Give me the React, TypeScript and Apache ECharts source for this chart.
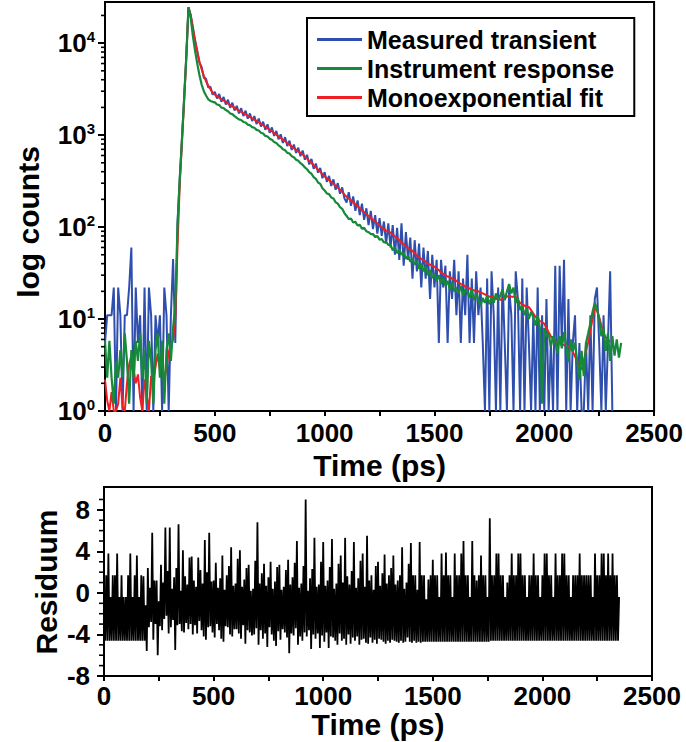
import React, { useEffect, useRef } from "react";
import * as echarts from "echarts";

// sampling steps (ps); the i-th value sits at i * step
const TIME_STEP_PS = 10;
const RESID_STEP_PS = 5;

// Measured transient (counts), t = 0 .. 2310 ps
const measured = [
  5.5, 11, 11, 11, 22, 1, 22, 11, 1, 11,
  11, 22, 60, 1, 22, 5.5, 11, 1, 22, 1,
  22, 11, 1, 11, 5.5, 11, 1, 22, 11, 1,
  11, 45, 5.5, 110, 330, 880, 2450, 7100, 24500, 20500,
  15000, 10800, 8300, 6100, 5500, 4200, 4100, 3300, 3350, 2750,
  2950, 2500, 2800, 2300, 2600, 2150, 2420, 1980, 2250, 1850,
  2080, 1720, 1960, 1610, 1840, 1510, 1720, 1420, 1610, 1320,
  1510, 1240, 1400, 1140, 1310, 1060, 1210, 980, 1110, 900,
  1020, 820, 950, 760, 870, 690, 790, 640, 730, 590,
  680, 540, 610, 480, 550, 430, 490, 390, 440, 340,
  395, 310, 360, 280, 330, 255, 300, 230, 270, 205,
  185, 240, 170, 215, 150, 195, 135, 180, 120, 160,
  105, 150, 95, 135, 85, 125, 80, 115, 66, 110,
  60, 105, 50, 98, 44, 110, 38, 88, 44, 77,
  27.5, 72, 33, 66, 22, 60, 27.5, 55, 16.5, 50,
  22, 44, 5.5, 44, 22, 38, 5.5, 33, 16.5, 44,
  11, 33, 5.5, 27.5, 11, 50, 5.5, 27.5, 5.5, 33,
  11, 22, 5.5, 1, 27.5, 1, 33, 11, 1, 22,
  1, 27.5, 5.5, 1, 22, 11, 1, 33, 16.5, 1,
  27.5, 1, 22, 5.5, 1, 11, 1, 22, 1, 11,
  1, 16.5, 1, 5.5, 1, 38, 1, 38, 5.5, 44,
  1, 16.5, 1, 5.5, 11, 1, 5.5, 1, 1, 5.5,
  1, 11, 1, 16.5, 22, 5.5, 1, 11, 1, 5.5,
  33, 1,
];

// Instrument response (counts), t = 0 .. 2350 ps
const instrument = [
  5.8, 2.3, 5.8, 2.3, 1.2, 3.5, 2.3, 4.6, 2.3, 7,
  3.5, 1.2, 4.6, 2.3, 5.8, 3.5, 7, 2.3, 4.6, 1.2,
  5.8, 3.5, 1.2, 4.6, 7, 2.3, 5.8, 1.2, 4.6, 7,
  3.5, 8, 14, 100, 320, 850, 2400, 7000, 24500, 19000,
  12000, 8300, 6000, 4500, 3550, 3000, 2700, 2450, 2350, 2300,
  2270, 2150, 2120, 1990, 1970, 1870, 1820, 1720, 1690, 1610,
  1540, 1480, 1460, 1390, 1370, 1300, 1280, 1220, 1200, 1140,
  1120, 1060, 1040, 980, 965, 910, 890, 840, 820, 775,
  745, 700, 685, 640, 630, 590, 575, 540, 525, 495,
  475, 445, 425, 395, 380, 350, 335, 305, 295, 265,
  250, 232, 228, 210, 205, 186, 180, 165, 158, 142,
  132, 122, 124, 112, 114, 104, 106, 96, 98, 90,
  88, 84, 84, 78, 80, 73, 74, 68, 69, 64,
  64, 56, 60, 52, 57, 50, 53, 45, 49, 42,
  45, 39, 43, 35, 40, 33, 37, 30, 34, 28,
  31, 26, 30, 24, 28, 23, 26, 21, 25, 20,
  22, 19, 23, 18, 21, 20, 17, 21, 16, 19,
  16, 14, 17, 15, 18, 14.5, 17, 15, 19, 16,
  18, 21, 16, 20, 24, 19, 22, 15, 17, 12.5,
  14, 11, 13, 10, 12, 10.5, 8.5, 11, 8, 1.2,
  8, 6.5, 7, 5, 6.5, 5.8, 4.2, 6.5, 4.8, 7.2,
  5.2, 3.4, 6, 4.5, 5.5, 3.5, 2.2, 4.5, 2.4, 5.5,
  7, 9, 12, 15, 13, 10, 6.5, 8, 4.5, 7,
  3.5, 6.5, 4, 6, 3.8, 5.5,
];

// Monoexponential fit (counts), t = 0 .. 2300 ps
const fit = [
  2.2, 1.3, 1.0, 1.6, 1.0, 1.0, 1.2, 2.3, 1.1, 1.0,
  2.0, 3.2, 4.0, 2.8, 2.0, 2.5, 1.4, 1.0, 2.2, 1.5,
  1.0, 2.4, 2.2, 3.0, 4.2, 2.8, 3.5, 2.1, 3.0, 4.4,
  5.0, 6.0, 10, 60, 280, 800, 2300, 6800, 24500, 20000,
  14500, 10500, 8000, 6300, 5200, 4400, 3850, 3450, 3150, 2900,
  2750, 2650, 2550, 2450, 2380, 2300, 2200, 2120, 2050, 1980,
  1900, 1850, 1790, 1730, 1680, 1620, 1570, 1520, 1470, 1420,
  1380, 1330, 1280, 1230, 1190, 1140, 1100, 1050, 1010, 970,
  930, 890, 860, 820, 790, 750, 720, 690, 660, 640,
  615, 585, 555, 525, 500, 470, 445, 420, 400, 375,
  355, 340, 325, 310, 295, 280, 268, 255, 242, 225,
  214, 205, 196, 186, 178, 168, 160, 152, 145, 138,
  132, 126, 120, 115, 110, 104, 99, 95, 91, 90,
  87, 83, 79, 76, 72, 68, 65, 62, 59, 57,
  55, 52, 49, 47, 45, 44, 42, 40, 39, 38,
  37, 35.5, 34, 32, 31, 30, 29, 28.5, 27.5, 27,
  26, 25, 24, 23.5, 22.5, 22, 21.5, 21, 20.5, 20,
  20, 19.5, 19, 18.5, 18, 17.5, 17.5, 17, 16.5, 16.5,
  16.2, 16.5, 17, 17.5, 18, 17.5, 17.5, 17.4, 16, 15,
  14.5, 14, 13.5, 13.5, 12.5, 11.5, 10.5, 10, 9.5, 9.3,
  8.9, 8, 7.2, 6.5, 6, 5.6, 5.5, 5.4, 5.3, 5.2,
  5.2, 5, 4.8, 4.4, 3.9, 3.5, 3.1, 2.8, 3.5, 4.5,
  5.6, 7.5, 10, 13, 12.5, 10.5, 8.5, 7, 6.3, 6,
  5.6,
];

// Residuum, t = 0 .. 2350 ps in 5 ps steps (20 values per 100 ps row)
const residuum = [
  -0.4, -4.6, 1.7, -4.6, 3.8, -4.6, -0.4, -4.6, 1.7, -4.6, 1.7, -4.6, 3.8, -4.6, -0.4, -4.6, 1.7, -4.6, -0.4, -4.6,
  -0.4, -4.6, 1.7, -4.6, 3.8, -4.6, -0.4, -4.6, 1.7, -4.6, 3.6, -4.6, -0.4, -4.6, 1.7, -4.6, 1.6, -4.6, -1.2, -5.6,
  2.4, -3.3, 0.5, -2.8, 5.8, -4.5, 1.2, -3.0, 1.2, -6.0, -0.8, -3.2, 2.7, -3.6, 1.0, -2.5, 6.3, -2.2, 2.1, -3.9,
  6.3, -3.3, 0.4, -2.6, 1.5, -5.5, 2.4, -3.1, 6.6, -3.0, 0.2, -3.7, 4.1, -3.8, 1.6, -2.9, 0.8, -3.5, 3.4, -3.0,
  3.5, -4.0, 1.2, -3.1, 0.6, -3.9, 3.4, -2.7, 2.2, -3.6, 0.9, -4.2, 5.1, -4.5, 2.0, -3.3, 5.8, -3.2, 1.1, -3.8,
  1.2, -4.3, 2.9, -3.0, 0.5, -3.6, 1.4, -4.4, 3.6, -4.7, 0.3, -3.2, 1.7, -3.3, 2.6, -4.0, 4.4, -4.2, 0.7, -3.5,
  0.9, -3.5, 3.3, -3.9, 4.1, -4.4, 0.6, -3.1, 1.3, -4.9, 2.4, -3.6, 2.7, -3.8, 0.2, -4.1, 0.4, -4.0, 3.1, -3.4,
  6.8, -5.0, 0.9, -3.6, 1.9, -4.4, 2.8, -3.9, 0.7, -5.2, 1.5, -3.3, 3.0, -4.0, 0.4, -4.6, 1.1, -5.1, 2.5, -3.7,
  2.7, -4.5, 0.3, -3.5, 0.6, -3.8, 2.2, -4.3, 3.2, -5.8, 0.8, -3.9, 1.5, -4.1, 2.9, -3.4, 5.0, -5.0, 0.5, -4.2,
  0.9, -4.6, 2.6, -3.8, 9.0, -4.2, 0.2, -3.6, 1.4, -5.4, 2.3, -4.0, 5.3, -4.4, 0.6, -3.9, 0.8, -5.3, 3.0, -4.1,
  4.9, -4.7, 0.7, -3.8, 1.2, -5.3, 2.5, -4.2, 5.2, -4.3, 0.4, -4.6, 0.9, -5.0, 2.8, -3.9, 3.6, -4.6, 1.0, -4.4,
  5.3, -5.0, 1.6, -4.0, 0.8, -4.9, 2.1, -4.3, 4.9, -4.6, 0.5, -4.2, 1.4, -5.0, 3.1, -4.5, 3.8, -4.4, 0.6, -4.8,
  5.5, -4.9, 1.2, -4.3, 1.7, -4.8, 0.3, -4.5, 2.6, -4.9, 3.0, -4.4, 0.7, -4.5, 1.9, -4.7, 3.7, -4.9, 0.9, -4.6,
  1.7, -4.8, 2.4, -4.5, 3.6, -4.6, 0.8, -4.7, 1.2, -4.8, 1.7, -4.6, 4.4, -4.8, 0.4, -4.7, 1.0, -4.3, 2.8, -4.7,
  4.8, -4.8, 1.7, -4.6, 1.7, -4.8, 0.3, -4.7, 4.9, -4.8, 1.7, -4.7, 1.7, -4.7, -0.6, -4.7, 1.3, -4.7, 1.7, -4.7,
  3.2, -4.7, 1.7, -4.7, 1.7, -4.7, -0.4, -4.7, 3.8, -4.7, 1.7, -4.7, 3.9, -4.7, 1.7, -4.7, 1.7, -4.7, -0.4, -4.7,
  3.8, -4.7, 1.7, -4.7, 1.7, -4.7, 3.8, -4.7, 5.0, -4.7, 1.7, -4.7, 1.7, -4.7, -0.4, -4.7, 5.0, -4.7, 1.7, -4.7,
  1.2, -4.7, 1.7, -4.7, 3.6, -4.7, 1.7, -4.7, 1.7, -4.7, -0.4, -4.7, 7.2, -4.6, 1.7, -4.6, 1.7, -4.6, 3.8, -4.6,
  3.8, -4.6, 1.7, -4.6, 1.7, -4.6, -0.4, -4.6, 1.0, -4.6, 1.7, -4.6, 3.8, -4.6, 1.7, -4.6, 1.7, -4.6, 3.8, -4.6,
  3.8, -4.6, 1.7, -4.6, 1.7, -4.6, -0.4, -4.6, 1.7, -4.6, 1.7, -4.6, 3.8, -4.6, 1.7, -4.6, 1.7, -4.6, -0.4, -4.6,
  1.7, -4.6, 3.8, -4.6, 3.8, -4.6, 1.7, -4.6, 1.7, -4.6, -0.4, -4.6, 3.8, -4.6, 1.7, -4.6, 1.7, -4.6, 3.8, -4.6,
  3.8, -4.6, 1.7, -4.6, 1.7, -4.6, -0.4, -4.6, 1.7, -4.6, 1.7, -4.6, 1.7, -4.6, 3.8, -4.6, 1.7, -4.6, 1.7, -4.6,
  1.7, -4.6, 1.7, -4.6, 1.7, -4.6, -0.4, -4.6, 3.8, -4.6, 1.7, -4.6, 1.7, -4.6, 3.8, -4.6, 3.8, -4.6, 1.7, -4.6,
  3.8, -4.6, 1.7, -4.6, 3.8, -4.6, 1.7, -4.6, 1.7, -4.6, -0.4,
];

// minor tick values
const logMinorTicks = [
  2, 3, 4, 5, 6, 7, 8, 9,
  20, 30, 40, 50, 60, 70, 80, 90,
  200, 300, 400, 500, 600, 700, 800, 900,
  2000, 3000, 4000, 5000, 6000, 7000, 8000, 9000,
  20000,
];
const residMinorTicks = [-7, -6, -5, -3, -2, -1, 1, 2, 3, 5, 6, 7, 9];

const seriesNames = ["Measured transient", "Instrument response", "Monoexponential fit"];

const FONT = '"Liberation Sans", Arial, Helvetica, sans-serif';
const BLUE = "#2f4fae";
const GREEN = "#17893b";
const RED = "#ee1f22";

const toPairs = (arr: number[], step: number) => arr.map((v, i) => [i * step, v]);

const labelStyle = {
  color: "#000",
  fontSize: 26,
  fontWeight: "bold" as const,
  fontFamily: FONT,
};

const axisLineStyle = { show: true, onZero: false, lineStyle: { color: "#000", width: 2 } };

function tickSeries(values: number[], xAxisIndex: number, yAxisIndex: number, len: number) {
  return {
    type: "custom",
    xAxisIndex,
    yAxisIndex,
    silent: true,
    clip: false,
    z: 5,
    data: values.map((v) => [0, v]),
    renderItem: (_p: any, api: any) => {
      const pt = api.coord([0, api.value(1)]);
      return {
        type: "line",
        shape: { x1: pt[0] - len, y1: pt[1], x2: pt[0], y2: pt[1] },
        style: { stroke: "#000", lineWidth: 1.6 },
      };
    },
  };
}

const timeAxis = (gridIndex: number, margin: number, nameGap: number) => ({
  gridIndex,
  type: "value",
  min: 0,
  max: 2500,
  interval: 500,
  axisLine: axisLineStyle,
  axisTick: { show: true, length: 5, lineStyle: { color: "#000", width: 2 } },
  minorTick: { show: true, splitNumber: 2, length: 5, lineStyle: { color: "#000", width: 2 } },
  splitLine: { show: false },
  minorSplitLine: { show: false },
  axisLabel: { ...labelStyle, margin, formatter: (v: number) => String(v) },
  name: "Time (ps)",
  nameLocation: "middle",
  nameGap,
  nameTextStyle: { color: "#000", fontSize: 30, fontWeight: "bold", fontFamily: FONT },
});

export default function App() {
  const ref = useRef<HTMLDivElement>(null);

  useEffect(() => {
    if (!ref.current) return;
    const chart = echarts.init(ref.current, null, { renderer: "svg" });

    const option: any = {
      animation: false,
      backgroundColor: "#fff",
      grid: [
        { left: 105, top: 2, width: 550, height: 409, show: true, borderColor: "#000", borderWidth: 2, backgroundColor: "transparent" },
        { left: 104, top: 487, width: 548, height: 189, show: true, borderColor: "#000", borderWidth: 2, backgroundColor: "transparent" },
      ],
      xAxis: [timeAxis(0, 9, 35), timeAxis(1, 7, 30)],
      yAxis: [
        {
          gridIndex: 0,
          type: "log",
          logBase: 10,
          min: 1,
          max: 28000,
          axisLine: axisLineStyle,
          axisTick: { show: true, length: 7, lineStyle: { color: "#000", width: 2 } },
          splitLine: { show: false },
          axisLabel: {
            margin: 10,
            showMaxLabel: false,
            formatter: (v: number) => {
              const lg = Math.log10(v);
              const n = Math.round(lg);
              if (Math.abs(lg - n) > 1e-6) return "";
              return `{b|10}{s|${n}}`;
            },
            rich: {
              b: { ...labelStyle, fontSize: 26, lineHeight: 28 },
              s: { ...labelStyle, fontSize: 15, lineHeight: 15, verticalAlign: "top" },
            },
          },
        },
        {
          gridIndex: 1,
          type: "value",
          min: -8,
          max: 10.2,
          interval: 4,
          axisLine: axisLineStyle,
          axisTick: { show: true, length: 7, lineStyle: { color: "#000", width: 2 } },
          splitLine: { show: false },
          axisLabel: { ...labelStyle, margin: 14, showMaxLabel: false },
        },
      ],
      legend: {
        data: seriesNames,
        orient: "vertical",
        left: 307,
        top: 18,
        backgroundColor: "#fff",
        borderColor: "#000",
        borderWidth: 2,
        borderRadius: 0,
        padding: [9, 20, 6, 10],
        itemWidth: 45,
        itemHeight: 3,
        itemGap: 4,
        icon: "rect",
        selectedMode: false,
        textStyle: { color: "#000", fontSize: 25, lineHeight: 25, fontWeight: "bold", fontFamily: FONT },
      },
      graphic: [
        {
          type: "text",
          x: 28,
          y: 222,
          rotation: Math.PI / 2,
          style: { text: "log counts", fill: "#000", fontSize: 30, fontWeight: "bold", fontFamily: FONT, align: "center", verticalAlign: "middle" },
        },
        {
          type: "text",
          x: 46,
          y: 582,
          rotation: Math.PI / 2,
          style: { text: "Residuum", fill: "#000", fontSize: 30, fontWeight: "bold", fontFamily: FONT, align: "center", verticalAlign: "middle" },
        },
      ],
      series: [
        {
          name: seriesNames[0],
          type: "line",
          xAxisIndex: 0,
          yAxisIndex: 0,
          data: toPairs(measured, TIME_STEP_PS),
          showSymbol: false,
          color: BLUE,
          lineStyle: { width: 2, color: BLUE },
          z: 2,
        },
        {
          name: seriesNames[2],
          type: "line",
          xAxisIndex: 0,
          yAxisIndex: 0,
          data: toPairs(fit, TIME_STEP_PS),
          showSymbol: false,
          color: RED,
          lineStyle: { width: 2, color: RED },
          z: 3,
        },
        {
          name: seriesNames[1],
          type: "line",
          xAxisIndex: 0,
          yAxisIndex: 0,
          data: toPairs(instrument, TIME_STEP_PS),
          showSymbol: false,
          color: GREEN,
          lineStyle: { width: 2.2, color: GREEN },
          z: 4,
        },
        {
          name: "Residuum",
          type: "line",
          xAxisIndex: 1,
          yAxisIndex: 1,
          data: toPairs(residuum, RESID_STEP_PS),
          showSymbol: false,
          color: "#000",
          lineStyle: { width: 1.8, color: "#000" },
        },
        tickSeries(logMinorTicks, 0, 0, 4),
        tickSeries(residMinorTicks, 1, 1, 5),
      ],
    };

    chart.setOption(option);
    return () => chart.dispose();
  }, []);

  return (
    <div
      ref={ref}
      style={{ position: "absolute", left: 0, top: 0, width: 686, height: 742, background: "#fff" }}
    />
  );
}
